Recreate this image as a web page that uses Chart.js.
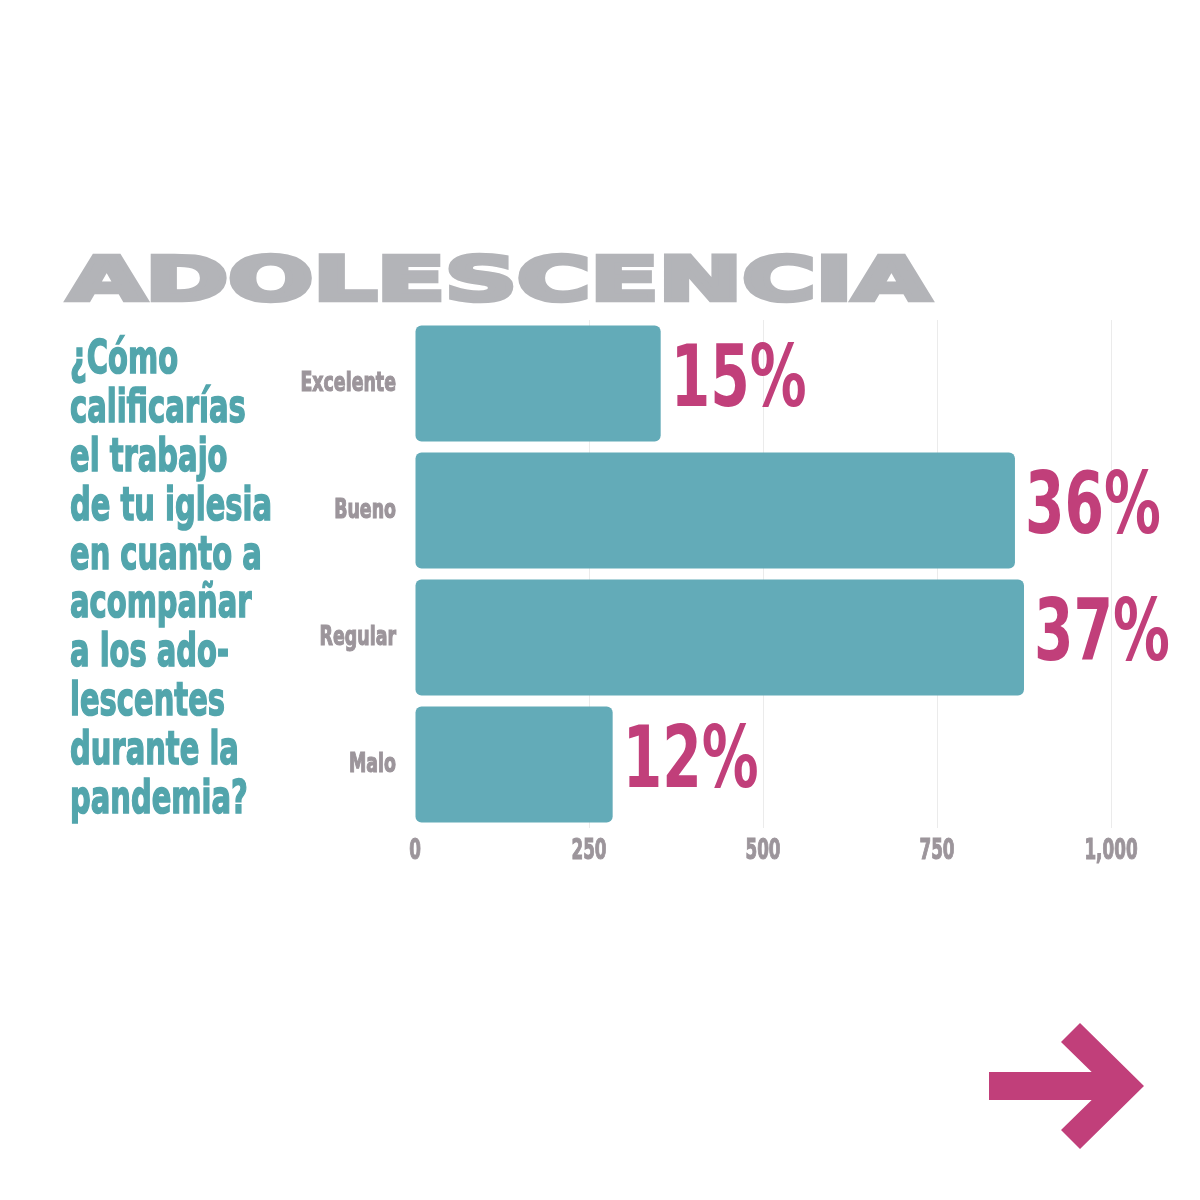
<!DOCTYPE html>
<html><head><meta charset="utf-8">
<script src="https://cdn.jsdelivr.net/npm/chart.js@4/dist/chart.umd.min.js"></script>
<style>
html,body{margin:0;padding:0;background:#fff;width:1200px;height:1200px;overflow:hidden}
#c{position:absolute;left:0;top:0}
#ov{position:absolute;left:0;top:0;pointer-events:none}
</style></head><body>
<canvas id="c" width="1200" height="1200"></canvas>
<svg id="ov" width="1200" height="1200" xmlns="http://www.w3.org/2000/svg">
  <text id="title" x="68" y="300" font-family="DejaVu Sans" font-weight="bold" font-size="61" fill="#b3b4b8" stroke="#b3b4b8" stroke-width="4.5" stroke-linejoin="miter" textLength="862" lengthAdjust="spacingAndGlyphs"></text>
  <g id="q" transform="translate(70,0) scale(0.63,1)"></g>
  <rect x="989" y="1072" width="120" height="28" fill="#c13f7a"/>
  <polygon points="1061,1042 1080,1023 1144,1086 1080,1149 1061,1130 1106,1086" fill="#c13f7a"/>
</svg>
<script>
const titleText = 'ADOLESCENCIA';
const questionLines = ['¿Cómo','calificarías','el trabajo','de tu iglesia','en cuanto a','acompañar','a los ado-','lescentes','durante la','pandemia?'];
const categories = ['Excelente','Bueno','Regular','Malo'];
const values = [353, 862, 875, 284];
const percentLabels = ['15%','36%','37%','12%'];
const tickValues = [0, 250, 500, 750, 1000];

document.getElementById('title').textContent = titleText;
const g = document.getElementById('q');
questionLines.forEach((line, i) => {
  const t = document.createElementNS('http://www.w3.org/2000/svg', 'text');
  t.setAttribute('x', 0);
  t.setAttribute('y', 373 + i * 48.9);
  t.setAttribute('font-family', 'DejaVu Sans');
  t.setAttribute('font-weight', 'bold');
  t.setAttribute('font-size', '46');
  t.setAttribute('fill', '#52a5ac');
  t.setAttribute('stroke', '#52a5ac');
  t.setAttribute('stroke-width', '1.6');
  t.textContent = line;
  g.appendChild(t);
});

function drawCondensed(ctx, text, x, y, sx, align, stroke) {
  ctx.save();
  ctx.translate(x, y);
  ctx.scale(sx, 1);
  ctx.textAlign = align;
  ctx.fillText(text, 0, 0);
  if (stroke) { ctx.lineWidth = stroke; ctx.strokeText(text, 0, 0); }
  ctx.restore();
}

const labelPlugin = {
  id: 'labels',
  afterDatasetsDraw(chart) {
    const ctx = chart.ctx;
    const meta = chart.getDatasetMeta(0);
    ctx.save();
    ctx.textBaseline = 'middle';
    // value labels
    ctx.fillStyle = '#c13f7a';
    ctx.strokeStyle = '#c13f7a';
    ctx.font = 'bold 86px "DejaVu Sans"';
    meta.data.forEach((bar, i) => {
      drawCondensed(ctx, percentLabels[i], bar.x + 10, bar.y, 0.66, 'left', 0);
    });
    // category labels
    ctx.fillStyle = '#9c959b';
    ctx.strokeStyle = '#9c959b';
    ctx.font = 'bold 26px "DejaVu Sans"';
    meta.data.forEach((bar, i) => {
      drawCondensed(ctx, categories[i], 396, bar.y + 1, 0.67, 'right', 1.2);
    });
    // tick labels
    const xs = chart.scales.x;
    ctx.font = 'bold 28px "DejaVu Sans"';
    tickValues.forEach(v => {
      drawCondensed(ctx, v.toLocaleString('en-US'), xs.getPixelForValue(v), 852, 0.6, 'center', 1.2);
    });
    ctx.restore();
  }
};

new Chart(document.getElementById('c'), {
  type: 'bar',
  data: {
    labels: categories,
    datasets: [{
      data: values,
      backgroundColor: '#63abb8',
      borderRadius: 6,
      borderSkipped: false,
      barPercentage: 0.915,
      categoryPercentage: 1
    }]
  },
  options: {
    indexAxis: 'y',
    responsive: false,
    animation: false,
    layout: { padding: { left: 415, right: 89, top: 320, bottom: 372 } },
    plugins: { legend: { display: false }, tooltip: { enabled: false } },
    scales: {
      x: {
        min: 0, max: 1000,
        ticks: { stepSize: 250, display: false },
        grid: { color: c => (c.tick && c.tick.value === 0) ? 'rgba(0,0,0,0)' : '#ebebeb', drawTicks: false, lineWidth: 1 },
        border: { display: false },
        afterFit: s => { s.height = 0; }
      },
      y: {
        ticks: { display: false },
        grid: { display: false },
        border: { display: false },
        afterFit: s => { s.width = 0; }
      }
    }
  },
  plugins: [labelPlugin]
});
</script>
</body></html>
